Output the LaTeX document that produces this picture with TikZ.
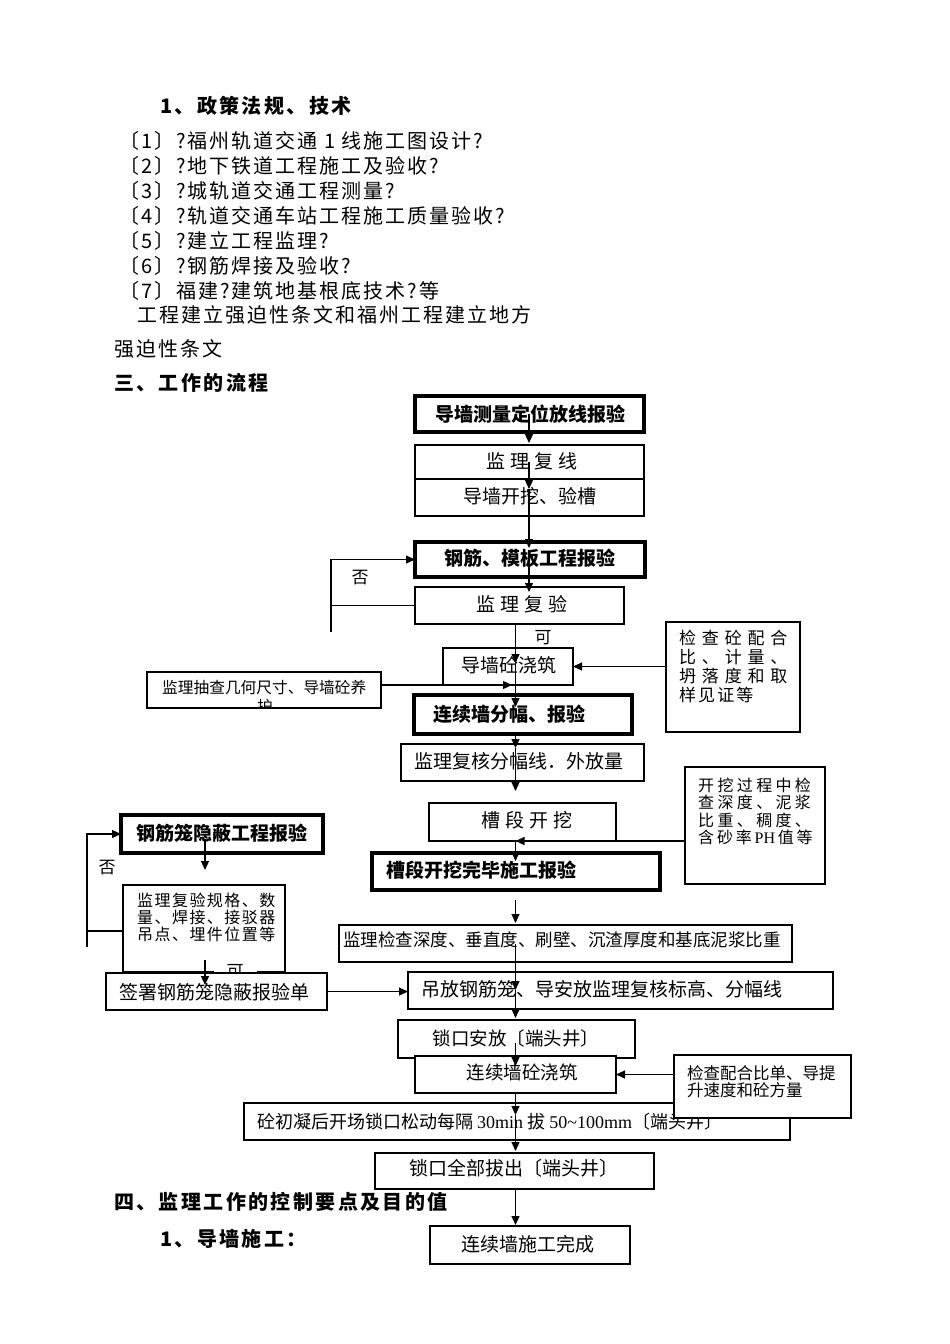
\documentclass[tikz,border=0pt]{standalone}
\usepackage{fontspec}
\setmainfont{Noto Sans CJK SC}
\newfontfamily\ser{Liberation Serif}
\usetikzlibrary{arrows.meta}
\newcommand\fs[2]{\fontsize{#1}{#2}\selectfont}
\newcommand\ls[1]{\addfontfeature{LetterSpace=#1}}
\newcommand\bx[6]{\node[#6, minimum width={#4pt-#2pt}, minimum height={#5pt-#3pt}] (#1) at ({(#2+#4)/2},{(#3+#5)/2}) {};}
\begin{document}
\begin{tikzpicture}[x=1pt,y=-1pt,
  box/.style={draw, line width=1.1pt, fill=white, inner sep=0, outer sep=0},
  tbox/.style={box, line width=3.8pt},
  arr/.style={line width=1.1pt, -{Triangle[length=9pt,width=8pt]}},
  ln/.style={line width=1.1pt},
  tx/.style={inner sep=0, font=\fs{19}{19}},
  bt/.style={inner sep=0, font=\fs{19}{19}\bfseries},
  ml/.style={inner sep=0, align=left, anchor=north west},
  lst/.style={anchor=west, inner sep=0, font=\fs{20}{20}\ls{10}},
  hd/.style={anchor=west, inner sep=0, font=\fs{20}{20}\bfseries\ls{12}},
  lab/.style={inner sep=0, font=\fs{17}{17}}]
\fill[white] (0,0) rectangle (950,1344);
\useasboundingbox (0,0) rectangle (950,1344);

% ---------- body text ----------
\node[hd] (h1) at (160,106) {1、政策法规、技术};
\node[lst] (L1) at (119,141) {〔1〕?福州轨道交通 1 线施工图设计?};
\node[lst] (L2) at (119,166) {〔2〕?地下铁道工程施工及验收?};
\node[lst] (L3) at (119,191) {〔3〕?城轨道交通工程测量?};
\node[lst] (L4) at (119,216) {〔4〕?轨道交通车站工程施工质量验收?};
\node[lst] (L5) at (119,241) {〔5〕?建立工程监理?};
\node[lst] (L6) at (119,266) {〔6〕?钢筋焊接及验收?};
\node[lst] (L7) at (119,291) {〔7〕福建?建筑地基根底技术?等};
\node[lst] (L8) at (137,315) {工程建立强迫性条文和福州工程建立地方};
\node[lst] (L9) at (114,349) {强迫性条文};
\node[hd] (h2) at (114,383) {三、工作的流程};
\node[hd] (h3) at (114,1202) {四、监理工作的控制要点及目的值};
\node[hd] (h4) at (160,1239) {1、导墙施工：};

% ---------- axes ----------
\coordinate (ax) at (529,0);
\coordinate (bx) at (515.5,0);
\coordinate (cx) at (205,0);

% ---------- boxes ----------
\bx{b1}{415}{396}{644}{432}{tbox}
\node[bt] (t1) at (530,414) {导墙测量定位放线报验};
\bx{b2}{415}{445}{644}{479}{box}
\node[tx, font=\fs{19}{19}\ls{25}] (t2) at (532,461) {监理复线};
\bx{b3}{415}{479}{644}{516}{box}
\node[tx] (t3) at (530,496) {导墙开挖、验槽};
\bx{b4}{415}{542}{645}{577}{tbox}
\node[bt] (t4) at (530,558) {钢筋、模板工程报验};
\bx{b5}{415}{587}{624}{624}{box}
\node[tx, font=\fs{19}{19}\ls{25}] (t5) at (522,604) {监理复验};
\node[lab] (k1) at (543,638) {可};
\node[lab] (f1) at (360,578) {否};
\bx{b6}{443}{648}{573}{685}{box}
\node[tx] (t6) at (509,665) {导墙砼浇筑};
\bx{b7}{666}{622}{800}{732}{box}
\node[ml, font=\fs{17}{19}] (t7) at (679,630) {{\ls{34}检查砼配合}\\{\ls{34}比、计量、}\\{\ls{34}坍落度和取}\\{\ls{12}样见证等}};
\bx{b8}{147}{672}{381}{708}{box}
\begin{scope}
\clip (b8.north west) rectangle (b8.south east);
\node[ml, font=\fs{15.7}{19}] (t8) at (162,680) {监理抽查几何尺寸、导墙砼养\\\hspace*{95pt}护};
\end{scope}
\bx{b9}{414}{695}{632}{734}{tbox}
\node[bt] (t9) at (509,714) {连续墙分幅、报验};
\bx{b10}{401}{744}{644}{781}{box}
\node[tx] (t10) at (519,761) {监理复核分幅线．外放量};
\bx{b11}{429}{803}{616}{841}{box}
\node[tx, font=\fs{19}{19}\ls{25}] (t11) at (527,820) {槽段开挖};
\bx{b12}{685}{767}{825}{884}{box}
\node[ml, font=\fs{16}{17.5}] (t12) at (698,777.5) {{\ls{21}开挖过程中检}\\{\ls{21}查深度、泥浆}\\{\ls{21}比重、稠度、}\\{\ls{18}含砂率\,{\ser PH}\,值等}};
\bx{b13}{372}{853}{660}{890}{tbox}
\node[bt] (t13) at (481,870) {槽段开挖完毕施工报验};
\bx{b14}{121}{815}{323}{853}{tbox}
\node[bt] (t14) at (222,833) {钢筋笼隐蔽工程报验};
\node[lab] (f2) at (107,868) {否};
\bx{b15}{123}{885}{285}{972}{box}
\node[ml, font=\fs{16}{17}] (t15) at (137,892.5) {{\ls{9}监理复验规格、数}\\{\ls{9}量、焊接、接驳器}\\{\ls{9}吊点、埋件位置等}};
\node[lab, fill=white, minimum width=43pt, minimum height=14pt] (k2) at (235,972) {可};
\bx{b16}{106}{973}{327}{1010}{box}
\node[tx] (t16) at (214,992) {签署钢筋笼隐蔽报验单};
\bx{b17}{339}{925}{792}{962}{box}
\node[tx, font=\fs{17.5}{17.5}] (t17) at (562,940) {监理检查深度、垂直度、刷壁、沉渣厚度和基底泥浆比重};
\bx{b18}{408}{972}{833}{1009}{box}
\node[tx] (t18) at (602,989) {吊放钢筋笼、导安放监理复核标高、分幅线};
\bx{b19}{398}{1020}{635}{1058}{box}
\node[tx, font=\fs{18.5}{18.5}] (t19) at (516,1038) {锁口安放〔端头井〕};
\bx{b20}{415}{1056}{616}{1093}{box}
\node[tx, font=\fs{18.5}{18.5}] (t20) at (522,1072) {连续墙砼浇筑};
\bx{b22}{244}{1103}{790}{1140}{box}
\node[tx, font=\fs{18}{18}, anchor=west] (t22) at (257,1122) {砼初凝后开场锁口松动每隔 {\ser 30min} 拔 {\ser 50\textasciitilde100mm}〔端头井〕};
\bx{b21}{674}{1055}{851}{1118}{box}
\node[ml, font=\fs{16.5}{17}] (t21) at (687,1065) {检查配合比单、导提\\升速度和砼方量};
\bx{b23}{375}{1153}{654}{1189}{box}
\node[tx] (t23) at (514,1168) {锁口全部拔出〔端头井〕};
\bx{b24}{430}{1226}{630}{1264}{box}
\node[tx] (t24) at (528,1244) {连续墙施工完成};

% ---------- connectors ----------
\draw[arr] (b1.center -| ax) -- ([yshift=2pt]b2.north -| ax);
\draw[arr] (b2.center -| ax) -- ([yshift=-10pt]b3.north -| ax);
\draw[arr] ([yshift=-10pt]b3.north -| ax) -- ([yshift=-6pt]b4.north -| ax);
\draw[arr] (b4.center -| ax) -- ([yshift=-5pt]b5.north -| ax);
\draw[arr] (b5.south -| bx) -- ([yshift=-15pt]b6.north -| bx);
\draw[arr] ([yshift=-15pt]b6.north -| bx) -- ([yshift=-12pt]b9.north -| bx);
\draw[arr] (b9.south -| bx) -- ([yshift=-4pt]b10.north -| bx);
\draw[arr] ([yshift=-4pt]b10.north -| bx) -- ([yshift=12pt]b11.north -| bx);
\draw[arr] (b11.south -| b12.west) -- (b11.south -| bx);
\draw[arr] (b11.south -| bx) -- ([yshift=-8pt]b13.north -| bx);
\draw[arr] ([yshift=-10pt]b13.south -| bx) -- ([yshift=2pt]b17.north -| bx);
\draw[arr] (b17.center -| bx) -- ([yshift=-18pt]b18.north -| bx);
\draw[arr] ([yshift=-18pt]b18.north -| bx) -- ([yshift=2pt]b19.north -| bx);
\draw[arr] ([yshift=-4pt]b19.center -| bx) -- ([yshift=-10pt]b20.north -| bx);
\draw[arr] (b20.south -| bx) -- ([yshift=-12pt]b22.north -| bx);
\draw[arr] ([yshift=-12pt]b22.north -| bx) -- ([yshift=2pt]b23.north -| bx);
\draw[arr] (b23.south -| bx) -- ([yshift=1pt]b24.north -| bx);
% side inputs
\draw[arr] (b6.east -| b7.west) -- (b6.east);
\coordinate (h2y) at (512,685);
\draw[arr] (b8.east |- h2y) -- (h2y);
\draw[arr] (b16.east) -- (b16.east -| b18.west);
\draw[arr] (b20.east -| b21.west) -- (b20.east);
% loop 1
\coordinate (l1t) at (331,559.5);
\coordinate (l1b) at (331,632);
\draw[ln] (b5.west) -- (b5.west -| l1t);
\draw[arr] (l1b) -- (l1t) -- (b4.west);
% loop 2
\coordinate (l2t) at (87,834);
\coordinate (l2m) at (87,931);
\coordinate (l2b) at (87,947);
\draw[ln] (b15.west |- l2m) -- (l2m);
\draw[arr] (l2b) -- (l2t) -- (b14.west);
\draw[arr] ([yshift=-5pt]b14.center -| cx) -- ([yshift=15pt]b15.north -| cx);
\draw[arr] ([yshift=12pt]b15.south -| cx) -- ([yshift=-12pt]b16.north -| cx);
\end{tikzpicture}
\end{document}
